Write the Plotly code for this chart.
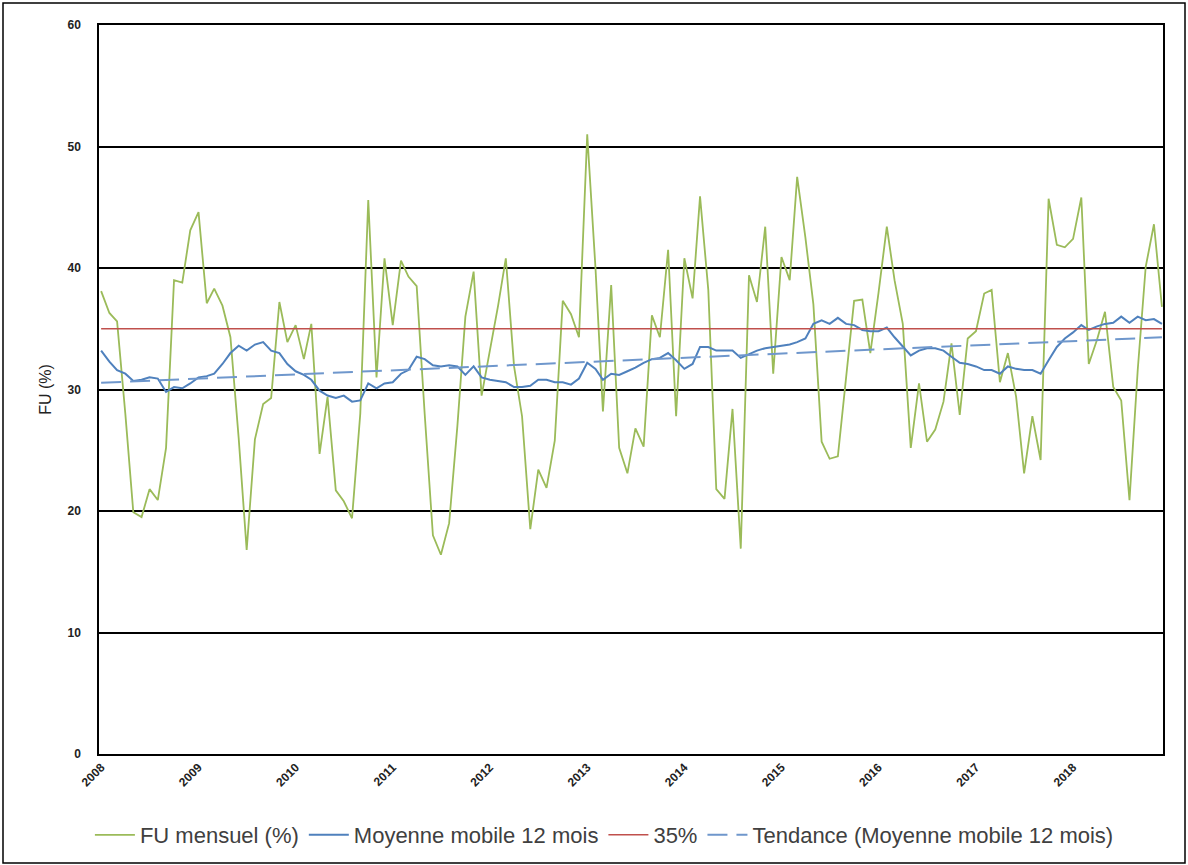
import pandas as pd
import plotly.graph_objects as go

months = pd.date_range("2008-01-01", periods=132, freq="MS")

fu_mensuel = [
    38.1, 36.3, 35.6, 28.0, 19.9, 19.5, 21.8, 20.9, 25.2, 39.0, 38.8, 43.1,
    44.6, 37.1, 38.3, 36.9, 34.3, 26.0, 16.8, 25.9, 28.8, 29.3, 37.2, 33.9,
    35.3, 32.5, 35.4, 24.7, 29.4, 21.7, 20.8, 19.4, 28.0, 45.6, 31.0, 40.8,
    35.3, 40.6, 39.3, 38.5, 28.0, 18.0, 16.4, 19.0, 27.0, 36.0, 39.7, 29.5,
    33.2, 36.9, 40.8, 31.9, 27.8, 18.5, 23.4, 21.9, 25.8, 37.3, 36.2, 34.3,
    51.0, 40.0, 28.2, 38.6, 25.2, 23.1, 26.8, 25.3, 36.1, 34.3, 41.5, 27.8,
    40.8, 37.5, 45.9, 38.2, 21.8, 21.0, 28.4, 16.9, 39.4, 37.2, 43.4, 31.3,
    40.9, 39.0, 47.5, 42.5, 37.0, 25.7, 24.3, 24.5, 31.0, 37.3, 37.4, 33.0,
    38.0, 43.4, 39.0, 35.4, 25.2, 30.5, 25.7, 26.7, 29.0, 33.8, 27.9, 34.2,
    34.8, 37.9, 38.2, 30.6, 33.0, 29.4, 23.1, 27.8, 24.2, 45.7, 41.9, 41.7,
    42.4, 45.8, 32.1, 34.1, 36.4, 30.2, 29.1, 20.9, 31.6, 40.1, 43.6, 36.8,
]

moyenne_mobile = [
    33.2, 32.3, 31.6, 31.3, 30.7, 30.8, 31.0, 30.9, 29.8, 30.2, 30.1, 30.5,
    31.0, 31.1, 31.3, 32.1, 33.0, 33.6, 33.2, 33.7, 33.9, 33.2, 33.0, 32.1,
    31.5, 31.2, 30.8, 29.9, 29.5, 29.3, 29.5, 29.0, 29.1, 30.5, 30.1, 30.5,
    30.6, 31.3, 31.6, 32.7, 32.5, 32.0, 31.9, 32.0, 31.9, 31.2, 31.9, 31.0,
    30.8, 30.7, 30.6, 30.2, 30.2, 30.3, 30.8, 30.8, 30.6, 30.6, 30.4, 30.9,
    32.2, 31.7, 30.8, 31.3, 31.2, 31.5, 31.8, 32.2, 32.5, 32.6, 33.0, 32.4,
    31.7, 32.1, 33.5, 33.5, 33.2, 33.2, 33.2, 32.6, 32.9, 33.2, 33.4, 33.5,
    33.6, 33.7, 33.9, 34.2, 35.4, 35.7, 35.4, 35.9, 35.4, 35.3, 34.9, 34.8,
    34.8, 35.1, 34.3, 33.5, 32.8, 33.2, 33.4, 33.4, 33.2, 32.7, 32.2, 32.1,
    31.9, 31.6, 31.6, 31.3, 31.9, 31.7, 31.6, 31.6, 31.3, 32.4, 33.5, 34.2,
    34.7, 35.3, 34.9, 35.2, 35.4, 35.5, 36.0, 35.5, 36.0, 35.7, 35.8, 35.4,
]

seuil = [35.0, 35.0]
tendance = [30.55, 34.3]
ends = [months[0], months[-1]]

year_ticks = [pd.Timestamp(f"{y}-01-01") for y in range(2008, 2019)]
year_labels = [str(y) for y in range(2008, 2019)]
y_ticks = [0, 10, 20, 30, 40, 50, 60]

fig = go.Figure()
fig.add_trace(go.Scatter(x=months, y=fu_mensuel, mode="lines", name="FU mensuel (%)",
                         line=dict(color="#9BBB59", width=1.8)))
fig.add_trace(go.Scatter(x=months, y=moyenne_mobile, mode="lines", name="Moyenne mobile 12 mois",
                         line=dict(color="#4F81BD", width=2)))
fig.add_trace(go.Scatter(x=ends, y=seuil, mode="lines", name="35%",
                         line=dict(color="#C0504D", width=1.5)))
fig.add_trace(go.Scatter(x=ends, y=tendance, mode="lines", name="Tendance (Moyenne mobile 12 mois)",
                         line=dict(color="#6F97CC", width=2, dash="20px,9px")))

W, H = 1188, 865
L, R, T, B = 99, 25, 25, 111
pw, ph = W - L - R, H - T - B

def px_x(x):
    return (x - L) / pw

def px_y(y):
    return (H - B - y) / ph

fig.add_shape(type="rect", xref="paper", yref="paper",
              x0=px_x(3), x1=px_x(1185), y0=px_y(863), y1=px_y(3),
              line=dict(color="black", width=1.5), fillcolor="rgba(0,0,0,0)")

fig.update_layout(
    width=W, height=H,
    margin=dict(l=L, r=R, t=T, b=B, autoexpand=False),
    paper_bgcolor="white", plot_bgcolor="white",
    font=dict(family="Liberation Sans, Arial, sans-serif", color="#404040"),
    showlegend=True,
    legend=dict(orientation="h", x=0.475, xanchor="center", y=px_y(835), yanchor="middle",
                font=dict(size=22, color="#404040"), itemwidth=40,
                bgcolor="rgba(0,0,0,0)"),
    xaxis=dict(type="date", range=["2007-12-24", "2018-12-05"],
               tickvals=year_ticks, ticktext=year_labels, tickangle=-45,
               tickfont=dict(size=12, color="#222222", weight="bold"),
               showgrid=False, zeroline=False, automargin=False,
               showline=True, linecolor="black", linewidth=1.5, mirror=True,
               ticks=""),
    yaxis=dict(range=[0, 60], tickvals=y_ticks,
               tickfont=dict(size=12, color="#222222", weight="bold"),
               ticklabelstandoff=14, automargin=False,
               showgrid=True, gridcolor="black", gridwidth=1.5, zeroline=False,
               showline=True, linecolor="black", linewidth=1.5, mirror=True,
               title=dict(text="FU (%)", font=dict(size=16, color="#222222"), standoff=12),
               ticks="", ticklen=0),
)

fig.write_html("out.html", config={"displayModeBar": False},
               post_script="document.body.style.margin='0px';")
